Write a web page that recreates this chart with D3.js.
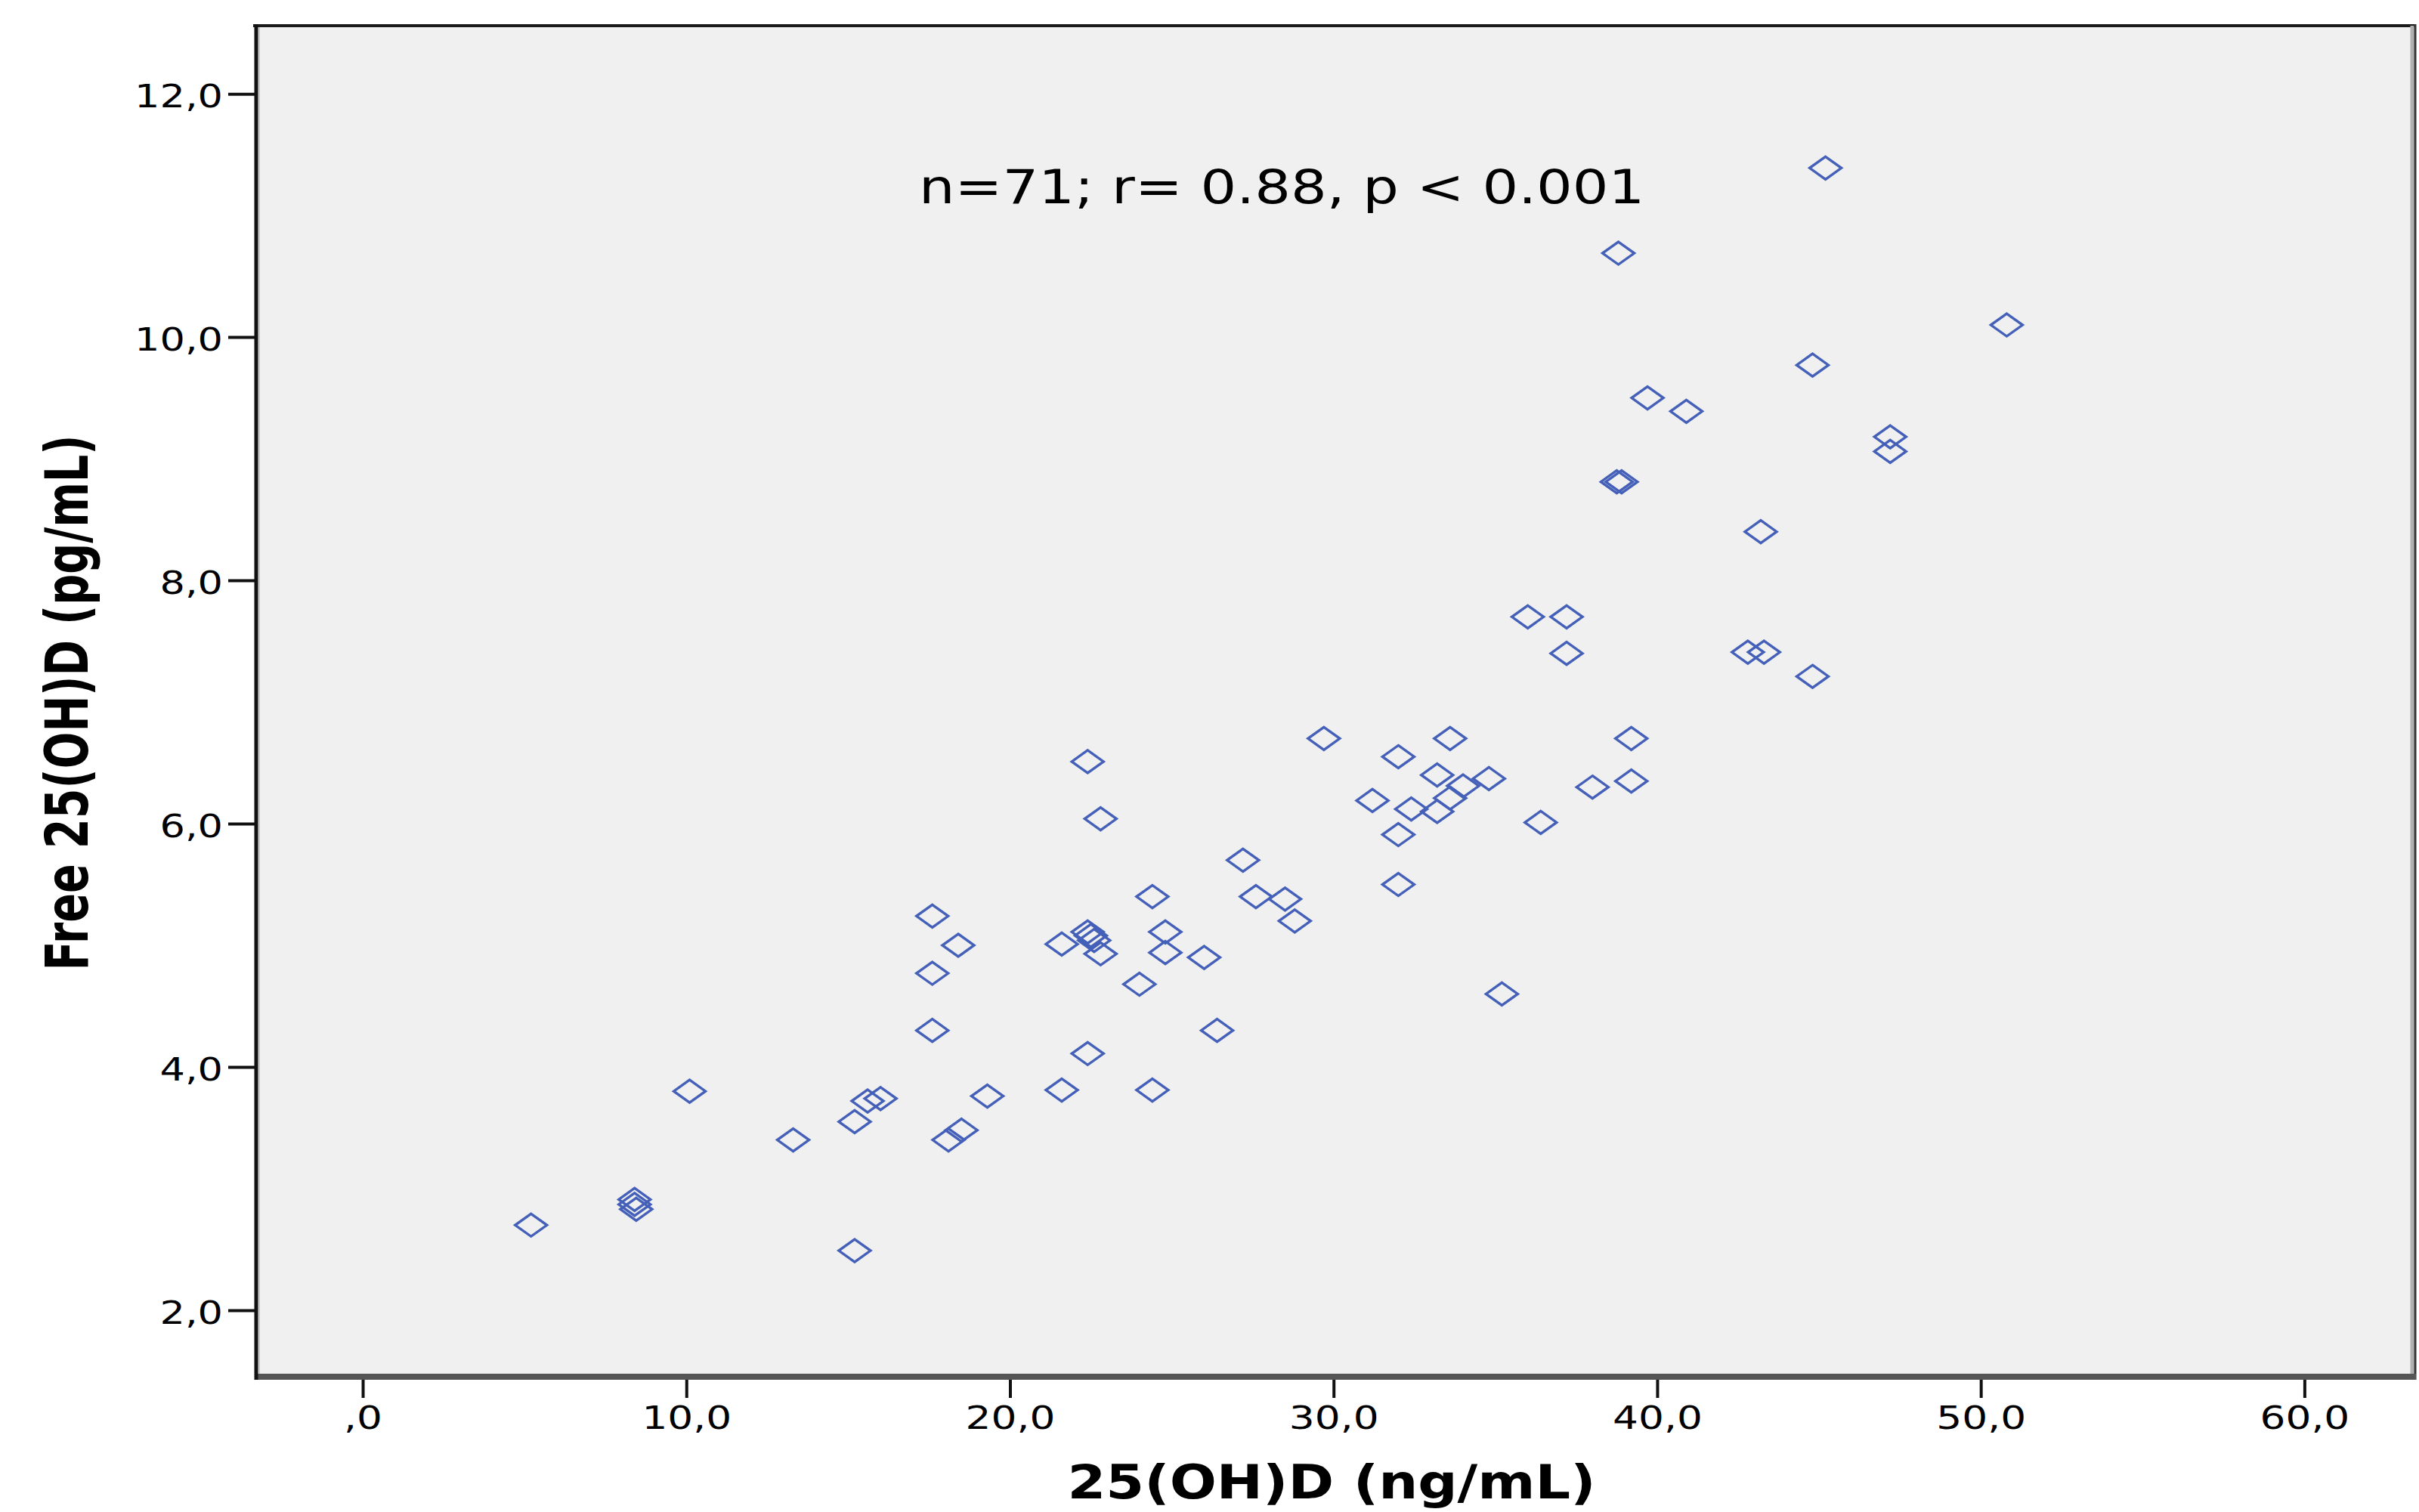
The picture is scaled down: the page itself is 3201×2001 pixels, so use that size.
<!DOCTYPE html>
<html>
<head>
<meta charset="utf-8">
<script src="https://cdn.jsdelivr.net/npm/d3@7/dist/d3.min.js"></script>
<style>
	html, body { margin: 0; padding: 0; background: #ffffff; }
	svg { display: block; }
</style>
</head>
<body>
<div id="chart"></div>
<script>

// 25(OH)D (ng/mL) vs free 25(OH)D (pg/mL)
var totalD = [5.2, 8.4, 8.45, 8.4, 10.1, 13.3, 15.2, 15.2, 15.6, 16.0,
	17.6, 17.6, 17.6, 18.4, 18.1, 18.5, 19.3, 21.6, 21.6, 22.4,
	22.4, 22.6, 22.8, 22.8, 22.4, 24.0, 24.4, 24.4, 24.8, 24.8,
	26.0, 26.4, 27.2, 27.6, 28.5, 28.8, 29.7, 31.2, 32.0, 32.0,
	32.0, 32.4, 33.2, 33.2, 33.6, 33.6, 34.0, 34.8, 35.2, 36.0,
	36.4, 37.2, 37.2, 38.0, 38.8, 38.75, 38.9, 39.2, 39.2, 39.7,
	40.9, 42.8, 43.3, 43.2, 44.8, 44.8, 45.2, 47.2, 47.2, 50.8,
	22.5];

var freeD = [2.70, 2.91, 2.83, 2.87, 3.80, 3.40, 3.55, 2.49, 3.72, 3.74,
	5.24, 4.77, 4.30, 5.00, 3.40, 3.48, 3.76, 5.01, 3.81, 6.51,
	5.11, 5.04, 6.04, 4.93, 4.11, 4.68, 5.40, 3.81, 5.11, 4.94,
	4.90, 4.30, 5.70, 5.40, 5.38, 5.20, 6.70, 6.19, 6.55, 5.91,
	5.50, 6.12, 6.40, 6.10, 6.70, 6.21, 6.31, 6.37, 4.60, 7.70,
	6.01, 7.70, 7.40, 6.30, 10.69, 8.81, 8.81, 6.70, 6.35, 9.50,
	9.39, 7.41, 7.41, 8.40, 9.77, 7.21, 11.39, 9.18, 9.06, 10.10,
	5.08];

var xTicks = [0, 10, 20, 30, 40, 50, 60];
var xTickLabels = [",0", "10,0", "20,0", "30,0", "40,0", "50,0", "60,0"];
var yTicks = [2, 4, 6, 8, 10, 12];
var yTickLabels = ["2,0", "4,0", "6,0", "8,0", "10,0", "12,0"];

var xTitle = "25(OH)D (ng/mL)";
var yTitle = "Free 25(OH)D (pg/mL)";
var statsNote = "n=71; r= 0.88, p < 0.001";


var width = 3201;
var height = 2001;

// frame of the plot area
var box = {left: 337, right: 3195, top: 34, bottom: 1822};

var font = "'DejaVu Sans', Verdana, sans-serif";
var markColor = "#4460b8";

var svg = d3.select("#chart").append("svg")
	.attr("width", width)
	.attr("height", height);

var xScale = d3.scaleLinear()
	.domain([-3.34, 63.4])
	.range([box.left, box.right]);

var yScale = d3.scaleLinear()
	.domain([1.453, 12.56])
	.range([box.bottom, box.top]);


// stretch text sideways, the source picture is wider than it should be
function widen(sel, k)
{
	sel.each(function()
	{
		var len = this.getComputedTextLength();
		d3.select(this)
		.attr("textLength", len * k)
		.attr("lengthAdjust", "spacingAndGlyphs");
	});
}


svg.append("rect")
	.attr("x", box.left)
	.attr("y", box.top)
	.attr("width", box.right - box.left)
	.attr("height", box.bottom - box.top)
	.attr("fill", "#f0f0f0");


// axes
var yAxis = d3.axisLeft(yScale)
	.tickValues(yTicks)
	.tickFormat(function(d, i) { return yTickLabels[i]; })
	.tickSizeInner(35)
	.tickSizeOuter(0)
	.tickPadding(7);

var gy = svg.append("g")
	.attr("transform", "translate(" + box.left + ",0)")
	.call(yAxis);

gy.select(".domain").remove();
gy.selectAll(".tick line").attr("stroke", "#111").attr("stroke-width", 4);
gy.selectAll(".tick text")
	.attr("font-family", font)
	.attr("font-size", 42)
	.attr("fill", "#000")
	.attr("dy", "0.41em")
	.call(widen, 1.25);


var xAxis = d3.axisBottom(xScale)
	.tickValues(xTicks)
	.tickFormat(function(d, i) { return xTickLabels[i]; })
	.tickSizeInner(28)
	.tickSizeOuter(0)
	.tickPadding(11);

var gx = svg.append("g")
	.attr("transform", "translate(0," + box.bottom + ")")
	.call(xAxis);

gx.select(".domain").remove();
gx.selectAll(".tick line").attr("stroke", "#111").attr("stroke-width", 4);
gx.selectAll(".tick text")
	.attr("font-family", font)
	.attr("font-size", 42)
	.attr("fill", "#000")
	.call(widen, 1.27);


// frame borders
var frame = svg.append("g").attr("fill", "none");

frame.append("line")
	.attr("x1", box.left - 2).attr("y1", box.top)
	.attr("x2", box.right).attr("y2", box.top)
	.attr("stroke", "#1a1a1a").attr("stroke-width", 4);

frame.append("line")
	.attr("x1", box.right - 3).attr("y1", box.top)
	.attr("x2", box.right - 3).attr("y2", box.bottom)
	.attr("stroke", "#b0b0b0").attr("stroke-width", 5);

frame.append("line")
	.attr("x1", box.right + 1).attr("y1", box.top - 2)
	.attr("x2", box.right + 1).attr("y2", box.bottom + 4)
	.attr("stroke", "#333").attr("stroke-width", 3);

frame.append("line")
	.attr("x1", box.left).attr("y1", box.bottom)
	.attr("x2", box.right + 2).attr("y2", box.bottom)
	.attr("stroke", "#555").attr("stroke-width", 8);

frame.append("line")
	.attr("x1", box.left + 2).attr("y1", box.top - 2)
	.attr("x2", box.left + 2).attr("y2", box.bottom + 4)
	.attr("stroke", "#111").attr("stroke-width", 5);

frame.append("line")
	.attr("x1", box.left + 6).attr("y1", box.top + 2)
	.attr("x2", box.left + 6).attr("y2", box.bottom - 4)
	.attr("stroke", "#c8c8c8").attr("stroke-width", 2);


// points
var diamond = "M0,-15L21,0L0,15L-21,0Z";

svg.append("g")
	.selectAll("path")
	.data(totalD)
	.enter()
	.append("path")
	.attr("d", diamond)
	.attr("transform", function(d, i) {
		return "translate(" + xScale(d) + "," + yScale(freeD[i]) + ")";
	})
	.attr("fill", "none")
	.attr("stroke", markColor)
	.attr("stroke-width", 3.4);


// annotation
svg.append("text")
	.attr("x", xScale(28.4))
	.attr("y", yScale(11.1))
	.attr("text-anchor", "middle")
	.attr("font-family", font)
	.attr("font-size", 62)
	.attr("fill", "#000")
	.text(statsNote)
	.call(widen, 1.21);


// axis titles
svg.append("text")
	.attr("x", 1762)
	.attr("y", 1983)
	.attr("text-anchor", "middle")
	.attr("font-family", font)
	.attr("font-weight", "bold")
	.attr("font-size", 62)
	.attr("fill", "#000")
	.text(xTitle)
	.call(widen, 1.18);

svg.append("g")
	.attr("transform", "translate(116,930) scale(1.25,1)")
	.append("text")
	.attr("transform", "rotate(-90)")
	.attr("text-anchor", "middle")
	.attr("font-family", font)
	.attr("font-weight", "bold")
	.attr("font-size", 62)
	.attr("fill", "#000")
	.attr("textLength", 709)
	.attr("lengthAdjust", "spacingAndGlyphs")
	.text(yTitle);

</script>
</body>
</html>
